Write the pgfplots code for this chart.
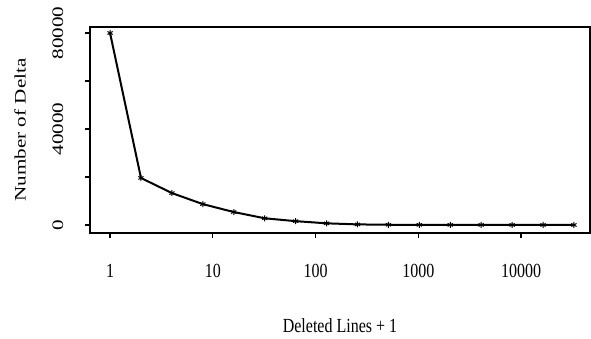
\documentclass[border=0pt]{standalone}
\usepackage{pgfplots}
\pgfplotsset{compat=1.18}
\usepackage{fontspec}
\setmainfont{Liberation Serif}
\newcommand{\xl}[1]{\scalebox{1}[1.25]{#1}}
\newcommand{\yl}[1]{\scalebox{1.32}[1]{#1}}
\begin{document}
\begin{tikzpicture}
\begin{axis}[
  scale only axis, width=500pt, height=206pt,
  xmode=log, log basis x=10,
  xmin=0.638, xmax=46950, ymin=-3333, ymax=82500,
  axis line style={line width=1.8pt},
  tick align=outside, xtick pos=left, ytick pos=left,
  major tick length=5pt, minor tick num=0,
  every tick/.style={black, line width=1.2pt},
  xtick={1,10,100,1000,10000},
  xticklabels={\xl{1},\xl{10},\xl{100},\xl{1000},\xl{10000}},
  ytick={0,20000,40000,60000,80000},
  yticklabels={\yl{0},,\yl{40000},,\yl{80000}},
  font=\fontsize{16}{19}\selectfont,
  xticklabel style={anchor=center, yshift=-33pt},
  yticklabel style={anchor=center, rotate=90, yshift=27pt},
  scaled y ticks=false,
  xlabel={\xl{Deleted Lines + 1}},
  ylabel={\yl{Number of Delta}},
  xlabel style={at={(axis description cs:0.5,-0.451)}, anchor=center},
  ylabel style={at={(axis description cs:-0.14,0.5)}, anchor=center},
]
\addplot[black, line width=2pt, mark=asterisk, mark size=3pt, mark options={line width=1pt}] coordinates {
(1,80000) (2,19600) (4,13300) (8,8700) (16,5400) (32,2800) (64,1600)
(128,700) (256,250) (512,100) (1024,60) (2048,40) (4096,30) (8192,20) (16384,10) (32768,5)
};
\end{axis}
\pgfresetboundingbox
\path (-90pt,-106pt) rectangle (501pt,233pt);
\end{tikzpicture}
\end{document}
